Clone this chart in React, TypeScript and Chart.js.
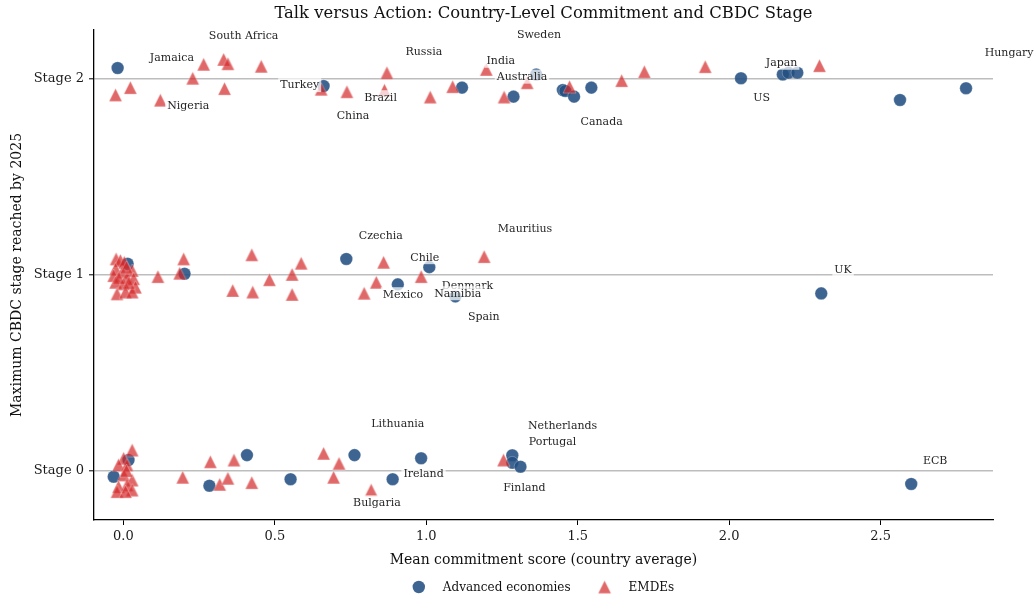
import React, { useEffect, useRef } from 'react';
import { Chart, registerables } from 'chart.js';
Chart.register(...registerables);

// ---------- data ----------
const advX = [
  -0.019, 0.661, 1.118, 1.288, 1.363, 1.451, 1.459, 1.488, 1.545, 2.039, 2.177, 2.196, 2.225, 2.564, 2.782,
  0.014, 0.202, 0.736, 0.906, 1.010, 1.096, 2.304,
  0.017, -0.032, 0.284, 0.408, 0.552, 0.763, 0.889, 0.983, 1.284, 1.284, 1.311, 2.601,
];
const advY = [
  2.056, 1.964, 1.956, 1.910, 2.023, 1.944, 1.939, 1.910, 1.956, 2.004, 2.023, 2.032, 2.032, 1.893, 1.953,
  1.057, 1.006, 1.082, 0.952, 1.040, 0.891, 0.906,
  0.056, -0.029, -0.075, 0.081, -0.042, 0.081, -0.042, 0.065, 0.080, 0.042, 0.022, -0.066,
];
const emdeX = [
  -0.026, 0.023, 0.122, 0.229, 0.265, 0.331, 0.345, 0.334, 0.455, 0.653, 0.738, 0.870, 0.862, 1.013, 1.087,
  1.198, 1.257, 1.333, 1.473, 1.645, 1.720, 1.921, 2.298,
  -0.024, -0.010, 0.003, -0.026, -0.004, 0.029, -0.032, 0.012, 0.034, -0.026, 0.001, 0.040, -0.021, 0.007, 0.029,
  0.010, 0.018, -0.015,
  0.114, 0.199, 0.186, 0.361, 0.424, 0.427, 0.482, 0.557, 0.557, 0.587, 0.859, 0.835, 0.795, 0.983, 1.191,
  0.029, 0.001, -0.016, 0.012, 0.001, 0.029, -0.016, 0.012, 0.029, -0.021, 0.007, 0.010,
  0.196, 0.287, 0.318, 0.345, 0.365, 0.424, 0.661, 0.712, 0.694, 0.818, 1.255,
];
const emdeY = [
  1.919, 1.956, 1.892, 2.004, 2.075, 2.100, 2.078, 1.951, 2.065, 1.948, 1.935, 2.032, 1.943, 1.908, 1.961,
  2.049, 1.908, 1.981, 1.961, 1.992, 2.037, 2.063, 2.068,
  1.082, 1.074, 1.065, 1.031, 1.015, 1.023, 0.997, 0.989, 0.981, 0.963, 0.955, 0.938, 0.904, 0.913, 0.913,
  1.040, 0.960, 0.985,
  0.992, 1.082, 1.009, 0.921, 1.103, 0.913, 0.976, 1.003, 0.901, 1.060, 1.065, 0.963, 0.907, 0.992, 1.094,
  0.107, 0.065, 0.031, 0.031, -0.020, -0.046, -0.080, -0.071, -0.097, -0.105, -0.105, 0.002,
  -0.032, 0.047, -0.068, -0.037, 0.056, -0.059, 0.090, 0.039, -0.032, -0.097, 0.056,
];

const stageTicks = [0, 1, 2];
const stageLabels = ['Stage 0', 'Stage 1', 'Stage 2'];
const xTicks = [0, 0.5, 1, 1.5, 2, 2.5];
const seriesNames = ['Advanced economies', 'EMDEs'];

const labelNames = [
  'South Africa', 'Jamaica', 'Nigeria', 'Turkey', 'Brazil', 'China', 'Russia', 'Sweden', 'India', 'Australia',
  'Canada', 'Japan', 'US', 'Hungary',
  'Czechia', 'Chile', 'Mauritius', 'Mexico', 'Denmark', 'Namibia', 'Spain', 'UK',
  'Lithuania', 'Netherlands', 'Portugal', 'Ireland', 'Finland', 'Bulgaria', 'ECB',
];
const labelX = [
  0.397, 0.160, 0.214, 0.582, 0.849, 0.758, 0.992, 1.372, 1.246, 1.316,
  1.579, 2.173, 2.107, 2.924,
  0.850, 0.995, 1.326, 0.923, 1.136, 1.104, 1.190, 2.376,
  0.906, 1.450, 1.417, 0.991, 1.324, 0.837, 2.680,
];
const labelY = [
  2.219, 2.111, 1.864, 1.969, 1.907, 1.813, 2.139, 2.224, 2.093, 2.012,
  1.782, 2.083, 1.907, 2.136,
  1.203, 1.091, 1.238, 0.902, 0.944, 0.907, 0.787, 1.026,
  0.240, 0.230, 0.149, -0.015, -0.083, -0.160, 0.051,
];

// ---------- styles ----------
const SERIF = '"DejaVu Serif", "Liberation Serif", serif';
const BLUE = 'rgba(35,80,130,0.88)';
const RED = 'rgba(212,40,42,0.7)';

function makeTriangle(size: number): HTMLCanvasElement {
  const c = document.createElement('canvas');
  c.width = size + 2;
  c.height = size + 2;
  const g = c.getContext('2d')!;
  const m = 1;
  g.beginPath();
  g.moveTo(m + size / 2, m);
  g.lineTo(m + size, m + size);
  g.lineTo(m, m + size);
  g.closePath();
  g.fillStyle = RED;
  g.fill();
  g.strokeStyle = 'rgba(255,255,255,0.5)';
  g.lineWidth = 0.6;
  g.stroke();
  return c;
}

export default function App() {
  const ref = useRef<HTMLCanvasElement | null>(null);

  useEffect(() => {
    if (!ref.current) return;
    const tri = makeTriangle(13);

    const overlay = {
      id: 'overlay',
      afterDatasetsDraw(chart: any) {
        const { ctx, scales } = chart;
        const xs = scales.x;
        const ys = scales.y;
        ctx.save();
        ctx.font = `11px ${SERIF}`;
        ctx.textAlign = 'center';
        ctx.textBaseline = 'middle';
        labelNames.forEach((name, i) => {
          const px = xs.getPixelForValue(labelX[i]);
          const py = ys.getPixelForValue(labelY[i]);
          const w = ctx.measureText(name).width;
          ctx.fillStyle = 'rgba(255,255,255,0.72)';
          ctx.fillRect(px - w / 2 - 2, py - 7, w + 4, 14);
          ctx.fillStyle = '#262626';
          ctx.fillText(name, px, py + 0.5);
        });
        ctx.restore();
      },
      afterDraw(chart: any) {
        const { ctx, chartArea } = chart;
        const cx = (chartArea.left + chartArea.right) / 2;
        const cy = (chartArea.top + chartArea.bottom) / 2;
        ctx.save();
        ctx.fillStyle = '#111';
        ctx.textBaseline = 'middle';
        ctx.textAlign = 'center';
        ctx.font = `16.4px ${SERIF}`;
        ctx.fillText('Talk versus Action: Country-Level Commitment and CBDC Stage', cx, 14);
        ctx.font = `14px ${SERIF}`;
        ctx.fillText('Mean commitment score (country average)', cx, 560);
        ctx.save();
        ctx.translate(17, cy);
        ctx.rotate(-Math.PI / 2);
        ctx.fillText('Maximum CBDC stage reached by 2025', 0, 0);
        ctx.restore();

        // legend
        ctx.font = `12px ${SERIF}`;
        const w1 = ctx.measureText(seriesNames[0]).width;
        const w2 = ctx.measureText(seriesNames[1]).width;
        const total = 6 + 24 + w1 + 34 + 24 + w2;
        const start = cx - total / 2;
        const ly = 587;
        const m1 = start + 6;
        ctx.beginPath();
        ctx.arc(m1, ly, 6.2, 0, Math.PI * 2);
        ctx.fillStyle = BLUE;
        ctx.fill();
        ctx.fillStyle = '#111';
        ctx.textAlign = 'left';
        ctx.fillText(seriesNames[0], m1 + 24, ly + 0.5);
        const m2 = m1 + 24 + w1 + 34;
        ctx.drawImage(tri, m2 - tri.width / 2, ly - tri.height / 2);
        ctx.fillStyle = '#111';
        ctx.fillText(seriesNames[1], m2 + 24, ly + 0.5);
        ctx.restore();
      },
    };

    const chart = new Chart(ref.current, {
      type: 'scatter',
      data: {
        datasets: [
          {
            label: seriesNames[0],
            data: advX.map((x, i) => ({ x, y: advY[i] })),
            pointStyle: 'circle',
            pointRadius: 6.3,
            backgroundColor: BLUE,
            borderColor: 'rgba(255,255,255,0.5)',
            borderWidth: 0.5,
            order: 2,
          },
          {
            label: seriesNames[1],
            data: emdeX.map((x, i) => ({ x, y: emdeY[i] })),
            pointStyle: tri,
            pointRadius: 7,
            backgroundColor: RED,
            order: 1,
          },
        ],
      },
      options: {
        responsive: false,
        animation: false,
        events: [],
        devicePixelRatio: 1,
        layout: { padding: { left: 0, right: 42, top: 30, bottom: 48 } },
        plugins: {
          legend: { display: false },
          title: { display: false },
          tooltip: { enabled: false },
        },
        scales: {
          x: {
            type: 'linear',
            min: -0.097,
            max: 2.871,
            afterBuildTicks: (s: any) => {
              s.ticks = xTicks.map((v) => ({ value: v }));
            },
            afterFit: (s: any) => {
              s.height = 30;
            },
            ticks: {
              callback: (v: any) => Number(v).toFixed(1),
              font: { family: SERIF, size: 13 },
              color: '#1a1a1a',
              padding: 4,
              maxRotation: 0,
            },
            grid: {
              display: true,
              drawOnChartArea: false,
              drawTicks: true,
              tickColor: '#000',
              tickLength: 5,
              tickWidth: 1,
            },
            border: { display: true, color: '#000', width: 1.3 },
          },
          y: {
            type: 'linear',
            min: -0.25,
            max: 2.25,
            afterBuildTicks: (s: any) => {
              s.ticks = stageTicks.map((v) => ({ value: v }));
            },
            afterFit: (s: any) => {
              s.width = 94;
            },
            ticks: {
              callback: (v: any) => stageLabels[stageTicks.indexOf(Number(v))],
              font: { family: SERIF, size: 13 },
              color: '#1a1a1a',
              padding: 5,
            },
            grid: {
              display: true,
              color: '#bdbdbd',
              lineWidth: 1.6,
              drawTicks: true,
              tickColor: '#000',
              tickLength: 5,
              tickWidth: 1,
            },
            border: { display: true, color: '#000', width: 1.3 },
          },
        },
      },
      plugins: [overlay],
    } as any);

    return () => chart.destroy();
  }, []);

  return (
    <div style={{ position: 'absolute', left: 0, top: 0, width: 1035, height: 598, background: '#fff' }}>
      <canvas ref={ref} width={1035} height={598} style={{ display: 'block', width: 1035, height: 598 }} />
    </div>
  );
}
